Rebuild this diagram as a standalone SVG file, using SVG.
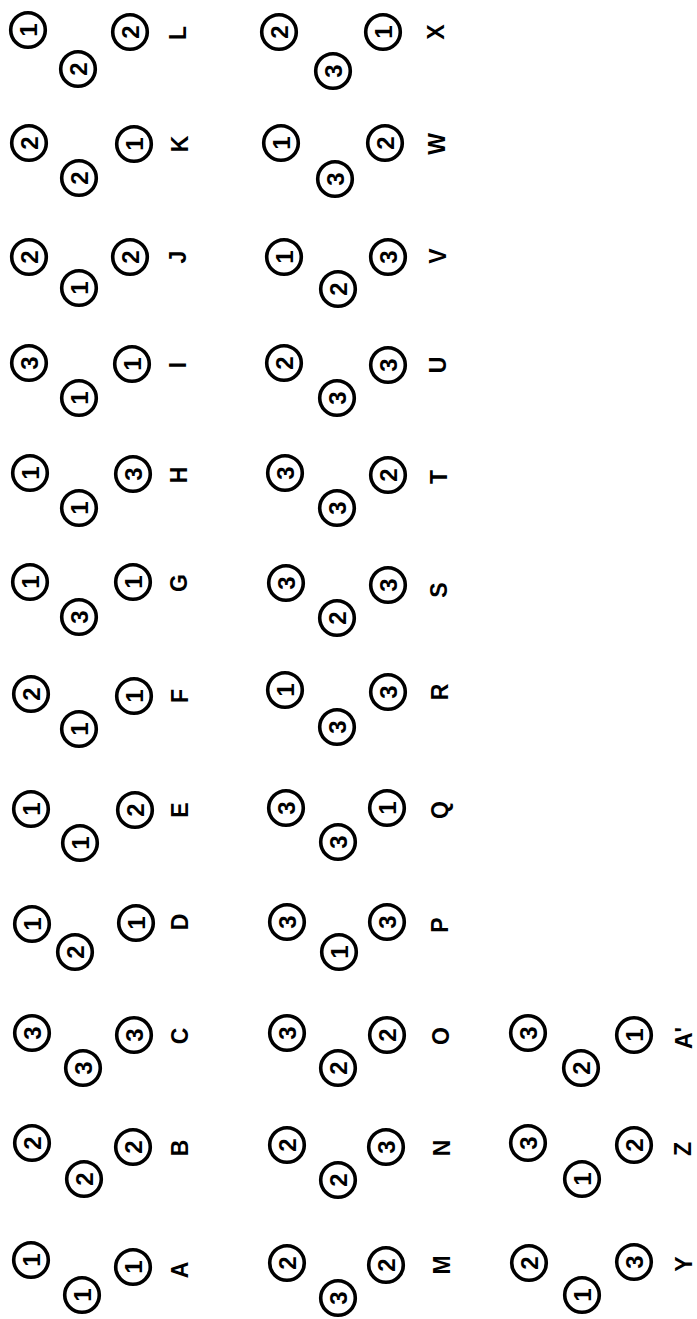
<svg xmlns="http://www.w3.org/2000/svg" width="697" height="1319" viewBox="0 0 697 1319">
<style>
.c{fill:#fff;stroke:#000;stroke-width:3.6}
.t{font-family:"Liberation Sans",Arial,sans-serif;font-weight:bold;font-size:24px;fill:#000;text-anchor:middle;dominant-baseline:central}
.l{font-family:"Liberation Sans",Arial,sans-serif;font-weight:bold;font-size:23px;fill:#000;text-anchor:middle;dominant-baseline:central}
</style>
<rect width="697" height="1319" fill="#fff"/>
<defs>
<g id="ring"><circle class="c" r="17.3"/></g>
</defs>
<g id="connectors"/>
<!-- Group 1 -->
<g id="node-L">
<use href="#ring" x="28" y="30"/><text class="t" transform="translate(28,30) rotate(-90)">1</text>
<use href="#ring" x="78" y="69"/><text class="t" transform="translate(78,69) rotate(-90)">2</text>
<use href="#ring" x="130" y="32"/><text class="t" transform="translate(130,32) rotate(-90)">2</text>
<text class="l" transform="translate(178,33) rotate(-90)">L</text>
</g>
<g id="node-K">
<use href="#ring" x="29" y="143"/><text class="t" transform="translate(29,143) rotate(-90)">2</text>
<use href="#ring" x="79" y="178"/><text class="t" transform="translate(79,178) rotate(-90)">2</text>
<use href="#ring" x="134" y="144"/><text class="t" transform="translate(134,144) rotate(-90)">1</text>
<text class="l" transform="translate(180,144) rotate(-90)">K</text>
</g>
<g id="node-J">
<use href="#ring" x="29" y="257"/><text class="t" transform="translate(29,257) rotate(-90)">2</text>
<use href="#ring" x="79" y="288"/><text class="t" transform="translate(79,288) rotate(-90)">1</text>
<use href="#ring" x="130" y="257"/><text class="t" transform="translate(130,257) rotate(-90)">2</text>
<text class="l" transform="translate(178,257) rotate(-90)">J</text>
</g>
<g id="node-I">
<use href="#ring" x="29" y="363"/><text class="t" transform="translate(29,363) rotate(-90)">3</text>
<use href="#ring" x="79" y="398"/><text class="t" transform="translate(79,398) rotate(-90)">1</text>
<use href="#ring" x="132" y="364"/><text class="t" transform="translate(132,364) rotate(-90)">1</text>
<text class="l" transform="translate(178,365) rotate(-90)">I</text>
</g>
<g id="node-H">
<use href="#ring" x="30" y="473"/><text class="t" transform="translate(30,473) rotate(-90)">1</text>
<use href="#ring" x="79" y="508"/><text class="t" transform="translate(79,508) rotate(-90)">1</text>
<use href="#ring" x="133" y="474"/><text class="t" transform="translate(133,474) rotate(-90)">3</text>
<text class="l" transform="translate(179,475) rotate(-90)">H</text>
</g>
<g id="node-G">
<use href="#ring" x="30" y="582"/><text class="t" transform="translate(30,582) rotate(-90)">1</text>
<use href="#ring" x="79" y="617"/><text class="t" transform="translate(79,617) rotate(-90)">3</text>
<use href="#ring" x="133" y="582"/><text class="t" transform="translate(133,582) rotate(-90)">1</text>
<text class="l" transform="translate(179,583) rotate(-90)">G</text>
</g>
<g id="node-F">
<use href="#ring" x="31" y="694"/><text class="t" transform="translate(31,694) rotate(-90)">2</text>
<use href="#ring" x="79" y="729"/><text class="t" transform="translate(79,729) rotate(-90)">1</text>
<use href="#ring" x="134" y="696"/><text class="t" transform="translate(134,696) rotate(-90)">1</text>
<text class="l" transform="translate(180,696) rotate(-90)">F</text>
</g>
<g id="node-E">
<use href="#ring" x="31" y="809"/><text class="t" transform="translate(31,809) rotate(-90)">1</text>
<use href="#ring" x="80" y="843"/><text class="t" transform="translate(80,843) rotate(-90)">1</text>
<use href="#ring" x="135" y="810"/><text class="t" transform="translate(135,810) rotate(-90)">2</text>
<text class="l" transform="translate(180,810) rotate(-90)">E</text>
</g>
<g id="node-D">
<use href="#ring" x="32" y="924"/><text class="t" transform="translate(32,924) rotate(-90)">1</text>
<use href="#ring" x="75" y="952"/><text class="t" transform="translate(75,952) rotate(-90)">2</text>
<use href="#ring" x="136" y="923"/><text class="t" transform="translate(136,923) rotate(-90)">1</text>
<text class="l" transform="translate(180,922) rotate(-90)">D</text>
</g>
<g id="node-C">
<use href="#ring" x="32" y="1033"/><text class="t" transform="translate(32,1033) rotate(-90)">3</text>
<use href="#ring" x="83" y="1068"/><text class="t" transform="translate(83,1068) rotate(-90)">3</text>
<use href="#ring" x="134" y="1035"/><text class="t" transform="translate(134,1035) rotate(-90)">3</text>
<text class="l" transform="translate(180,1036) rotate(-90)">C</text>
</g>
<g id="node-B">
<use href="#ring" x="32" y="1143"/><text class="t" transform="translate(32,1143) rotate(-90)">2</text>
<use href="#ring" x="84" y="1179"/><text class="t" transform="translate(84,1179) rotate(-90)">2</text>
<use href="#ring" x="133" y="1147"/><text class="t" transform="translate(133,1147) rotate(-90)">2</text>
<text class="l" transform="translate(180,1148) rotate(-90)">B</text>
</g>
<g id="node-A">
<use href="#ring" x="31" y="1260"/><text class="t" transform="translate(31,1260) rotate(-90)">1</text>
<use href="#ring" x="82" y="1295"/><text class="t" transform="translate(82,1295) rotate(-90)">1</text>
<use href="#ring" x="133" y="1267"/><text class="t" transform="translate(133,1267) rotate(-90)">1</text>
<text class="l" transform="translate(180,1270) rotate(-90)">A</text>
</g>
<!-- Group 2 -->
<g id="node-X">
<use href="#ring" x="279" y="32"/><text class="t" transform="translate(279,32) rotate(-90)">2</text>
<use href="#ring" x="333" y="71"/><text class="t" transform="translate(333,71) rotate(-90)">3</text>
<use href="#ring" x="383" y="32"/><text class="t" transform="translate(383,32) rotate(-90)">1</text>
<text class="l" transform="translate(436,32) rotate(-90)">X</text>
</g>
<g id="node-W">
<use href="#ring" x="281" y="143"/><text class="t" transform="translate(281,143) rotate(-90)">1</text>
<use href="#ring" x="335" y="179"/><text class="t" transform="translate(335,179) rotate(-90)">3</text>
<use href="#ring" x="385" y="143"/><text class="t" transform="translate(385,143) rotate(-90)">2</text>
<text class="l" transform="translate(437,144) rotate(-90)">W</text>
</g>
<g id="node-V">
<use href="#ring" x="284" y="257"/><text class="t" transform="translate(284,257) rotate(-90)">1</text>
<use href="#ring" x="338" y="289"/><text class="t" transform="translate(338,289) rotate(-90)">2</text>
<use href="#ring" x="388" y="257"/><text class="t" transform="translate(388,257) rotate(-90)">3</text>
<text class="l" transform="translate(438,256) rotate(-90)">V</text>
</g>
<g id="node-U">
<use href="#ring" x="284" y="363"/><text class="t" transform="translate(284,363) rotate(-90)">2</text>
<use href="#ring" x="337" y="398"/><text class="t" transform="translate(337,398) rotate(-90)">3</text>
<use href="#ring" x="388" y="365"/><text class="t" transform="translate(388,365) rotate(-90)">3</text>
<text class="l" transform="translate(438,365) rotate(-90)">U</text>
</g>
<g id="node-T">
<use href="#ring" x="285" y="473"/><text class="t" transform="translate(285,473) rotate(-90)">3</text>
<use href="#ring" x="337" y="508"/><text class="t" transform="translate(337,508) rotate(-90)">3</text>
<use href="#ring" x="388" y="475"/><text class="t" transform="translate(388,475) rotate(-90)">2</text>
<text class="l" transform="translate(439,477) rotate(-90)">T</text>
</g>
<g id="node-S">
<use href="#ring" x="286" y="583"/><text class="t" transform="translate(286,583) rotate(-90)">3</text>
<use href="#ring" x="337" y="618"/><text class="t" transform="translate(337,618) rotate(-90)">2</text>
<use href="#ring" x="388" y="585"/><text class="t" transform="translate(388,585) rotate(-90)">3</text>
<text class="l" transform="translate(439,590) rotate(-90)">S</text>
</g>
<g id="node-R">
<use href="#ring" x="285" y="690"/><text class="t" transform="translate(285,690) rotate(-90)">1</text>
<use href="#ring" x="337" y="727"/><text class="t" transform="translate(337,727) rotate(-90)">3</text>
<use href="#ring" x="388" y="692"/><text class="t" transform="translate(388,692) rotate(-90)">3</text>
<text class="l" transform="translate(440,692) rotate(-90)">R</text>
</g>
<g id="node-Q">
<use href="#ring" x="286" y="808"/><text class="t" transform="translate(286,808) rotate(-90)">3</text>
<use href="#ring" x="338" y="842"/><text class="t" transform="translate(338,842) rotate(-90)">3</text>
<use href="#ring" x="387" y="808"/><text class="t" transform="translate(387,808) rotate(-90)">1</text>
<text class="l" transform="translate(440,810) rotate(-90)">Q</text>
</g>
<g id="node-P">
<use href="#ring" x="287" y="922"/><text class="t" transform="translate(287,922) rotate(-90)">3</text>
<use href="#ring" x="339" y="952"/><text class="t" transform="translate(339,952) rotate(-90)">1</text>
<use href="#ring" x="387" y="922"/><text class="t" transform="translate(387,922) rotate(-90)">3</text>
<text class="l" transform="translate(440,925) rotate(-90)">P</text>
</g>
<g id="node-O">
<use href="#ring" x="287" y="1033"/><text class="t" transform="translate(287,1033) rotate(-90)">3</text>
<use href="#ring" x="338" y="1068"/><text class="t" transform="translate(338,1068) rotate(-90)">2</text>
<use href="#ring" x="387" y="1035"/><text class="t" transform="translate(387,1035) rotate(-90)">2</text>
<text class="l" transform="translate(441,1036) rotate(-90)">O</text>
</g>
<g id="node-N">
<use href="#ring" x="287" y="1145"/><text class="t" transform="translate(287,1145) rotate(-90)">2</text>
<use href="#ring" x="338" y="1180"/><text class="t" transform="translate(338,1180) rotate(-90)">2</text>
<use href="#ring" x="386" y="1147"/><text class="t" transform="translate(386,1147) rotate(-90)">3</text>
<text class="l" transform="translate(442,1148) rotate(-90)">N</text>
</g>
<g id="node-M">
<use href="#ring" x="287" y="1263"/><text class="t" transform="translate(287,1263) rotate(-90)">2</text>
<use href="#ring" x="338" y="1298"/><text class="t" transform="translate(338,1298) rotate(-90)">3</text>
<use href="#ring" x="386" y="1265"/><text class="t" transform="translate(386,1265) rotate(-90)">2</text>
<text class="l" transform="translate(442,1265) rotate(-90)">M</text>
</g>
<!-- Group 3 -->
<g id="node-A-prime">
<use href="#ring" x="528" y="1033"/><text class="t" transform="translate(528,1033) rotate(-90)">3</text>
<use href="#ring" x="581" y="1068"/><text class="t" transform="translate(581,1068) rotate(-90)">2</text>
<use href="#ring" x="634" y="1035"/><text class="t" transform="translate(634,1035) rotate(-90)">1</text>
<text class="l" transform="translate(684,1038) rotate(-90)">A'</text>
</g>
<g id="node-Z">
<use href="#ring" x="528" y="1143"/><text class="t" transform="translate(528,1143) rotate(-90)">3</text>
<use href="#ring" x="582" y="1179"/><text class="t" transform="translate(582,1179) rotate(-90)">1</text>
<use href="#ring" x="634" y="1145"/><text class="t" transform="translate(634,1145) rotate(-90)">2</text>
<text class="l" transform="translate(683,1149) rotate(-90)">Z</text>
</g>
<g id="node-Y">
<use href="#ring" x="529" y="1263"/><text class="t" transform="translate(529,1263) rotate(-90)">2</text>
<use href="#ring" x="582" y="1295"/><text class="t" transform="translate(582,1295) rotate(-90)">1</text>
<use href="#ring" x="634" y="1262"/><text class="t" transform="translate(634,1262) rotate(-90)">3</text>
<text class="l" transform="translate(684,1264) rotate(-90)">Y</text>
</g>
</svg>
